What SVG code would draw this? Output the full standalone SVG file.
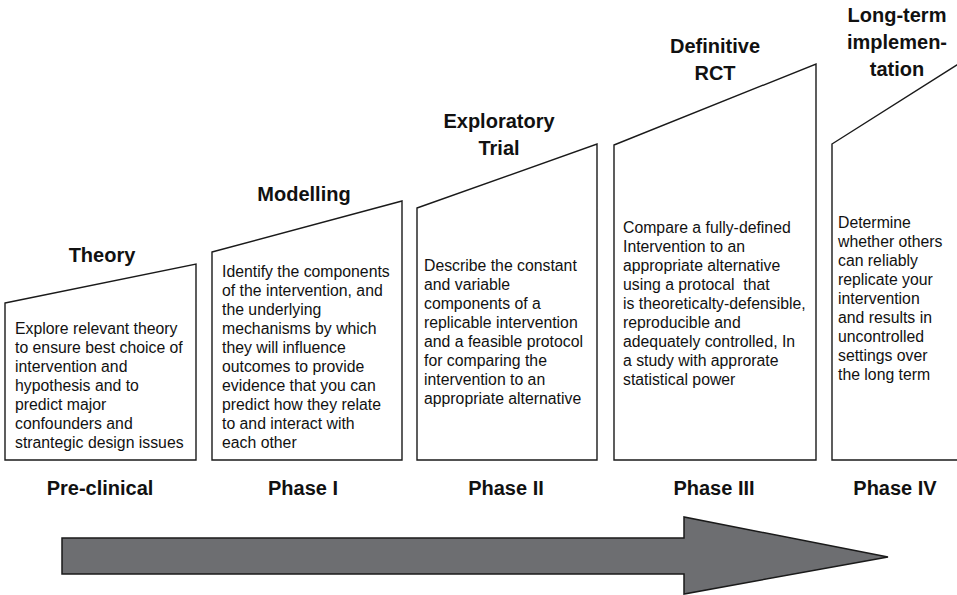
<svg xmlns="http://www.w3.org/2000/svg" width="957" height="595" viewBox="0 0 957 595">
<style>
.box{fill:#fff;stroke:#1a1a1a;stroke-width:1.4}
.t{font-family:"Liberation Sans",Arial,sans-serif;font-weight:bold;font-size:20px;fill:#111;text-anchor:middle}
.b{font-family:"Liberation Sans",Arial,sans-serif;font-size:15.8px;fill:#111}
.arrow{fill:#6d6e71;stroke:#1a1a1a;stroke-width:1.5}
</style>
<rect width="957" height="595" fill="#fff"/>
<g id="theory">
<polygon class="box" points="5,303 196,264 196,460 5,460"/>
<text class="t" x="102" y="262">Theory</text>
<text class="b">
<tspan x="15" y="334">Explore relevant theory</tspan>
<tspan x="15" y="353">to ensure best choice of</tspan>
<tspan x="15" y="372">intervention and</tspan>
<tspan x="15" y="391">hypothesis and to</tspan>
<tspan x="15" y="410">predict major</tspan>
<tspan x="15" y="429">confounders and</tspan>
<tspan x="15" y="448">strantegic design issues</tspan>
</text>
<text class="t" x="100" y="495">Pre-clinical</text>
</g>
<g id="modelling">
<polygon class="box" points="212,252 402,201 402,460 212,460"/>
<text class="t" x="304" y="201">Modelling</text>
<text class="b">
<tspan x="222" y="277">Identify the components</tspan>
<tspan x="222" y="296">of the intervention, and</tspan>
<tspan x="222" y="315">the underlying</tspan>
<tspan x="222" y="334">mechanisms by which</tspan>
<tspan x="222" y="353">they will influence</tspan>
<tspan x="222" y="372">outcomes to provide</tspan>
<tspan x="222" y="391">evidence that you can</tspan>
<tspan x="222" y="410">predict how they relate</tspan>
<tspan x="222" y="429">to and interact with</tspan>
<tspan x="222" y="448">each other</tspan>
</text>
<text class="t" x="303" y="495">Phase I</text>
</g>
<g id="exploratory">
<polygon class="box" points="417,208 597,144 597,460 417,460"/>
<text class="t" x="499" y="128">Exploratory</text>
<text class="t" x="499" y="155">Trial</text>
<text class="b">
<tspan x="424" y="271">Describe the constant</tspan>
<tspan x="424" y="290">and variable</tspan>
<tspan x="424" y="309">components of a</tspan>
<tspan x="424" y="328">replicable intervention</tspan>
<tspan x="424" y="347">and a feasible protocol</tspan>
<tspan x="424" y="366">for comparing the</tspan>
<tspan x="424" y="385">intervention to an</tspan>
<tspan x="424" y="404">appropriate alternative</tspan>
</text>
<text class="t" x="506" y="495">Phase II</text>
</g>
<g id="definitive">
<polygon class="box" points="614,145 816,64 816,460 614,460"/>
<text class="t" x="715" y="53">Definitive</text>
<text class="t" x="715" y="80">RCT</text>
<text class="b">
<tspan x="623" y="233">Compare a fully-defined</tspan>
<tspan x="623" y="252">Intervention to an</tspan>
<tspan x="623" y="271">appropriate alternative</tspan>
<tspan x="623" y="290" xml:space="preserve">using a protocal  that</tspan>
<tspan x="623" y="309">is theoreticalty-defensible,</tspan>
<tspan x="623" y="328">reproducible and</tspan>
<tspan x="623" y="347">adequately controlled, In</tspan>
<tspan x="623" y="366">a study with approrate</tspan>
<tspan x="623" y="385">statistical power</tspan>
</text>
<text class="t" x="714" y="495">Phase III</text>
</g>
<g id="longterm">
<polygon class="box" points="832,144 990,44 990,460 832,460"/>
<text class="t" x="897" y="22">Long-term</text>
<text class="t" x="897" y="49">implemen-</text>
<text class="t" x="897" y="76">tation</text>
<text class="b">
<tspan x="838" y="228">Determine</tspan>
<tspan x="838" y="247">whether others</tspan>
<tspan x="838" y="266">can reliably</tspan>
<tspan x="838" y="285">replicate your</tspan>
<tspan x="838" y="304">intervention</tspan>
<tspan x="838" y="323">and results in</tspan>
<tspan x="838" y="342">uncontrolled</tspan>
<tspan x="838" y="361">settings over</tspan>
<tspan x="838" y="380">the long term</tspan>
</text>
<text class="t" x="895" y="495">Phase IV</text>
</g>
<g id="connectors">
<polygon class="arrow" points="62,538 684,538 684,517 888,557 684,594 684,574 62,574"/>
</g>
</svg>
